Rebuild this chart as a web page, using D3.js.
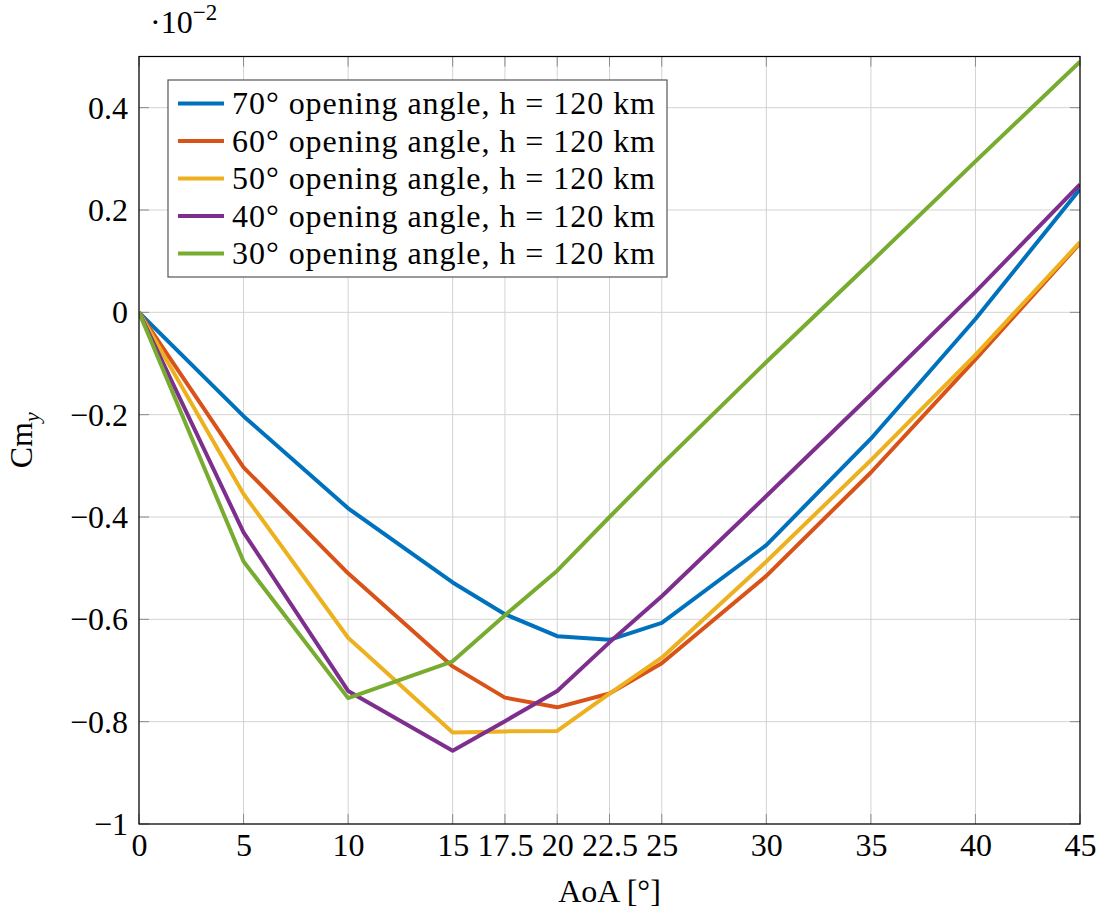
<!DOCTYPE html>
<html>
<head>
<meta charset="utf-8">
<script src="https://cdn.jsdelivr.net/npm/d3@7"></script>
<style>
  html, body { margin: 0; padding: 0; background: #fff; }
  svg text { font-family: "Liberation Serif", "DejaVu Serif", serif; fill: #000; }
</style>
</head>
<body>
<svg id="chart" width="1109" height="913"></svg>
<script>
// Angle of attack samples [deg]
const aoa = [0, 5, 10, 15, 17.5, 20, 22.5, 25, 30, 35, 40, 45];

// Pitching moment coefficient Cm_y (x 1e-2) per cone opening angle, h = 120 km
const cm70 = [0, -0.203, -0.383, -0.528, -0.590, -0.633, -0.640, -0.607, -0.455, -0.247, -0.013, 0.241];
const cm60 = [0, -0.303, -0.510, -0.692, -0.753, -0.772, -0.745, -0.686, -0.515, -0.313, -0.092, 0.135];
const cm50 = [0, -0.355, -0.636, -0.821, -0.819, -0.818, -0.745, -0.675, -0.487, -0.289, -0.083, 0.137];
const cm40 = [0, -0.430, -0.740, -0.857, -0.799, -0.740, -0.645, -0.555, -0.359, -0.161, 0.040, 0.250];
const cm30 = [0, -0.487, -0.754, -0.682, -0.592, -0.505, -0.400, -0.297, -0.097, 0.098, 0.295, 0.490];

const seriesNames = [
  "70° opening angle, h = 120 km",
  "60° opening angle, h = 120 km",
  "50° opening angle, h = 120 km",
  "40° opening angle, h = 120 km",
  "30° opening angle, h = 120 km"
];
const seriesColors = ["#0072BD", "#D95319", "#EDB120", "#7E2F8E", "#77AC30"];

const xTicks = [0, 5, 10, 15, 17.5, 20, 22.5, 25, 30, 35, 40, 45];
const yTicks = [-1, -0.8, -0.6, -0.4, -0.2, 0, 0.2, 0.4];

const series = [cm70, cm60, cm50, cm40, cm30].map((vals, i) => ({
  name: seriesNames[i],
  color: seriesColors[i],
  points: aoa.map((a, j) => ({ x: a, y: vals[j] }))
}));

const FONT = "'Liberation Serif', 'DejaVu Serif', serif";
const FS = 32;

const svg = d3.select("#chart");
const plot = { left: 139, right: 1080, top: 56.5, bottom: 824 };

const x = d3.scaleLinear().domain([0, 45]).range([plot.left, plot.right]);
const y = d3.scaleLinear().domain([-1, 0.5]).range([plot.bottom, plot.top]);

const fmtY = d => d === 0 ? "0" : (Number.isInteger(d) ? String(d) : d.toFixed(1)).replace("-", "\u2212");
const fmtX = d => String(d);

// Grid
const grid = svg.append("g").attr("stroke", "#d3d3d3").attr("stroke-width", 1);
xTicks.forEach(t => {
  grid.append("line").attr("x1", x(t)).attr("x2", x(t))
    .attr("y1", plot.top).attr("y2", plot.bottom);
});
yTicks.forEach(t => {
  grid.append("line").attr("x1", plot.left).attr("x2", plot.right)
    .attr("y1", y(t)).attr("y2", y(t));
});

// Inward tick marks on all four sides
const tickLen = 10;
const tickG = svg.append("g").attr("stroke", "#8c8c8c").attr("stroke-width", 1);
xTicks.forEach(t => {
  tickG.append("line").attr("x1", x(t)).attr("x2", x(t)).attr("y1", plot.bottom).attr("y2", plot.bottom - tickLen);
  tickG.append("line").attr("x1", x(t)).attr("x2", x(t)).attr("y1", plot.top).attr("y2", plot.top + tickLen);
});
yTicks.forEach(t => {
  tickG.append("line").attr("x1", plot.left).attr("x2", plot.left + tickLen).attr("y1", y(t)).attr("y2", y(t));
  tickG.append("line").attr("x1", plot.right).attr("x2", plot.right - tickLen).attr("y1", y(t)).attr("y2", y(t));
});

// Tick labels via d3 axes (axis lines hidden, labels only)
const xAxis = d3.axisBottom(x).tickValues(xTicks).tickFormat(fmtX).tickSize(0).tickPadding(0);
const gx = svg.append("g").attr("transform", `translate(0,${plot.bottom})`).call(xAxis)
  .attr("font-family", FONT).attr("font-size", FS);
gx.select(".domain").remove();
gx.selectAll("text").attr("dy", null).attr("y", 32);

const yAxis = d3.axisLeft(y).tickValues(yTicks).tickFormat(fmtY).tickSize(0).tickPadding(0);
const gy = svg.append("g").attr("transform", `translate(${plot.left},0)`).call(yAxis)
  .attr("font-family", FONT).attr("font-size", FS);
gy.select(".domain").remove();
gy.selectAll("text").attr("dy", "0.33em").attr("x", -11);

// Clip for data lines
svg.append("clipPath").attr("id", "plotClip")
  .append("rect").attr("x", plot.left).attr("y", plot.top - 2)
  .attr("width", plot.right - plot.left).attr("height", plot.bottom - plot.top + 4);

const line = d3.line().x(d => x(d.x)).y(d => y(d.y));
svg.append("g").attr("clip-path", "url(#plotClip)")
  .selectAll("path").data(series).join("path")
  .attr("d", d => line(d.points))
  .attr("fill", "none")
  .attr("stroke", d => d.color)
  .attr("stroke-width", 4)
  .attr("stroke-linejoin", "round");

// Axes frame
svg.append("rect").attr("x", plot.left).attr("y", plot.top)
  .attr("width", plot.right - plot.left).attr("height", plot.bottom - plot.top)
  .attr("fill", "none").attr("stroke", "#000").attr("stroke-width", 1.2);

// Scale multiplier
const mult = svg.append("text").attr("x", 150).attr("y", 33).attr("font-size", FS);
mult.append("tspan").text("\u00b710");
mult.append("tspan").attr("dy", -13).attr("font-size", 23).text("\u22122");

// Axis titles
svg.append("text").attr("x", (plot.left + plot.right) / 2).attr("y", 902)
  .attr("text-anchor", "middle").attr("font-size", FS).text("AoA [°]");

const yl = svg.append("text")
  .attr("transform", `translate(32,${(plot.top + plot.bottom) / 2}) rotate(-90)`)
  .attr("text-anchor", "middle").attr("font-size", FS);
yl.append("tspan").text("Cm");
yl.append("tspan").attr("dy", 7).attr("font-size", 22).attr("font-style", "italic").text("y");

// Legend
const leg = { x: 168, y: 80, w: 499, h: 197, row: 37.5, first: 103.5 };
const lg = svg.append("g");
lg.append("rect").attr("x", leg.x).attr("y", leg.y).attr("width", leg.w).attr("height", leg.h)
  .attr("fill", "#fff").attr("stroke", "#555").attr("stroke-width", 1.2);
series.forEach((s, i) => {
  const cy = leg.first + i * leg.row;
  lg.append("line").attr("x1", 178).attr("x2", 224).attr("y1", cy).attr("y2", cy)
    .attr("stroke", s.color).attr("stroke-width", 4);
  lg.append("text").attr("x", 232).attr("y", cy + 10.5).attr("font-size", FS)
    .attr("textLength", 423).attr("lengthAdjust", "spacing").text(s.name);
});
</script>
</body>
</html>
